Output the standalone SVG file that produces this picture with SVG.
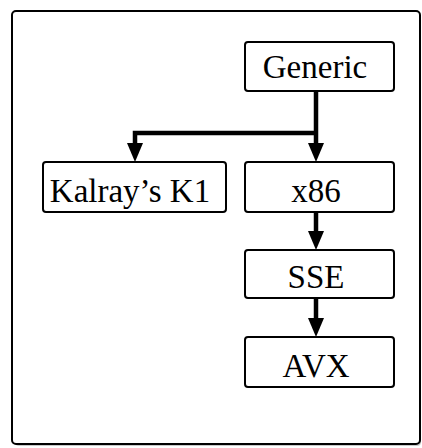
<svg xmlns="http://www.w3.org/2000/svg" width="422" height="448" viewBox="0 0 422 448">
  <defs>
    <style>
      .box { fill: #fff; stroke: #000; stroke-width: 2; }
      .label { font-family: "Liberation Serif", "Times New Roman", serif; font-size: 33px; fill: #000; text-anchor: middle; }
      .wire { fill: none; stroke: #000; stroke-width: 4.5; stroke-linejoin: miter; }
      .head { fill: #000; }
    </style>
  </defs>
  <rect width="422" height="448" fill="#fff"/>

  <!-- frame with drop shadow -->
  <rect x="15" y="13" width="406" height="433" rx="4" fill="#c8c8c8"/>
  <rect id="frame" x="12" y="11" width="408" height="433" rx="4" fill="#fff" stroke="#000" stroke-width="2"/>

  <!-- connectors -->
  <g id="connectors">
    <path class="wire" d="M316 91 V146 M316 133 H135 V146"/>
    <path class="wire" d="M316 212 V234"/>
    <path class="wire" d="M316 298 V320"/>
    <polygon class="head" points="308,143 324,143 316,162"/>
    <polygon class="head" points="127,143 143,143 135,162"/>
    <polygon class="head" points="308,231 324,231 316,250"/>
    <polygon class="head" points="308,318 324,318 316,337"/>
  </g>

  <g id="generic">
    <rect class="box" x="245" y="42" width="149" height="49" rx="3"/>
    <text class="label" x="315" y="78">Generic</text>
  </g>
  <g id="kalray">
    <rect class="box" x="43" y="162" width="183" height="50" rx="3"/>
    <text class="label" x="130" y="202">Kalray’s K1</text>
  </g>
  <g id="x86">
    <rect class="box" x="245" y="162" width="149" height="50" rx="3"/>
    <text class="label" x="316" y="202">x86</text>
  </g>
  <g id="sse">
    <rect class="box" x="245" y="250" width="149" height="48" rx="3"/>
    <text class="label" x="316" y="288">SSE</text>
  </g>
  <g id="avx">
    <rect class="box" x="245" y="337" width="149" height="50" rx="3"/>
    <text class="label" x="316" y="377">AVX</text>
  </g>
</svg>
